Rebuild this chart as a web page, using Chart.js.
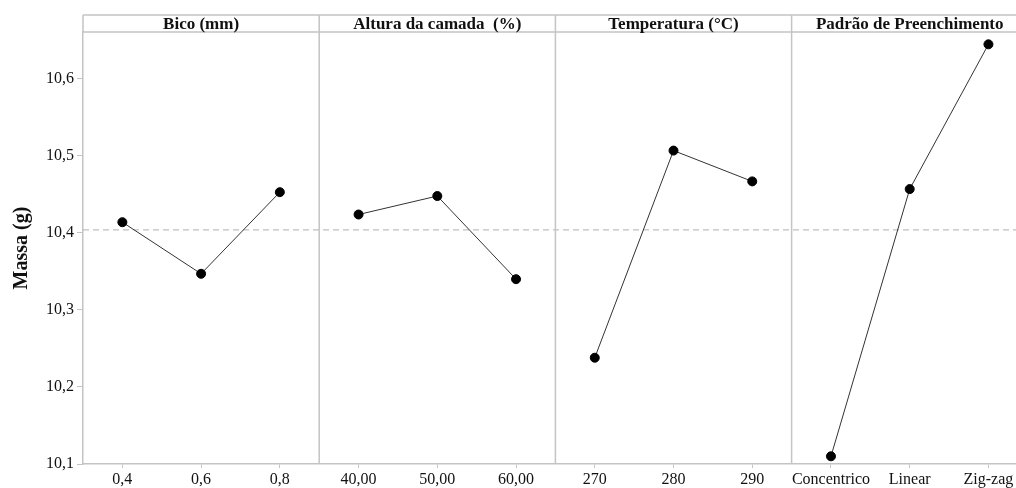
<!DOCTYPE html>
<html>
<head>
<meta charset="utf-8">
<script src="https://cdn.jsdelivr.net/npm/chart.js@4.4.0/dist/chart.umd.min.js"></script>
<style>
  html, body { margin: 0; padding: 0; background: #fff; overflow: hidden; }
  #wrap { width: 1016px; height: 488px; position: relative; }
  canvas { display: block; }
</style>
</head>
<body>
<div id="wrap"><canvas id="chart"></canvas></div>
<script>
// factor panels
const factors = ["Bico (mm)", "Altura da camada  (%)", "Temperatura (°C)", "Padrão de Preenchimento"];
const levelLabels = [
  ["0,4", "0,6", "0,8"],
  ["40,00", "50,00", "60,00"],
  ["270", "280", "290"],
  ["Concentrico", "Linear", "Zig-zag"]
];
// mean of Massa (g) for each level
const bicoMeans = [10.414, 10.347, 10.453];
const alturaMeans = [10.424, 10.448, 10.340];
const tempMeans = [10.238, 10.507, 10.467];
const padraoMeans = [10.110, 10.457, 10.645];
const grandMean = 10.404;
const yTickValues = [10.1, 10.2, 10.3, 10.4, 10.5, 10.6];

const seriesMeans = [bicoMeans, alturaMeans, tempMeans, padraoMeans];
const serif = "'Liberation Serif', 'DejaVu Serif', serif";
const gridGray = "#c4c4c4";

// each panel is one unit wide on the x scale, levels at 1/6, 1/2, 5/6
const levelPos = (panel, j) => panel + (2 * j + 1) / 6;

const datasets = seriesMeans.map((vals, p) => ({
  data: vals.map((v, j) => ({ x: levelPos(p, j), y: v })),
  borderColor: "#333",
  borderWidth: 1,
  pointBackgroundColor: "#000",
  pointBorderColor: "#000",
  pointRadius: 4.5,
  pointStyle: "circle",
  tension: 0,
}));

const xTicks = [];
const xTickText = {};
levelLabels.forEach((labels, p) => {
  labels.forEach((lab, j) => {
    const pos = levelPos(p, j);
    xTicks.push({ value: pos });
    xTickText[pos.toFixed(4)] = lab;
  });
});

const panelPlugin = {
  id: "panels",
  beforeDatasetsDraw(chart) {
    const { ctx, chartArea, scales } = chart;
    const headerTop = 15;
    ctx.save();
    // mean reference line
    const ym = scales.y.getPixelForValue(grandMean);
    ctx.strokeStyle = "#b0b0b0";
    ctx.lineWidth = 1;
    ctx.setLineDash([6, 4]);
    ctx.beginPath();
    ctx.moveTo(chartArea.left, ym);
    ctx.lineTo(chartArea.right, ym);
    ctx.stroke();
    ctx.setLineDash([]);

    // panel dividers and header strip
    ctx.strokeStyle = gridGray;
    ctx.lineWidth = 1.5;
    ctx.beginPath();
    ctx.moveTo(chartArea.left, headerTop);
    ctx.lineTo(chartArea.right, headerTop);
    ctx.moveTo(chartArea.left, chartArea.top);
    ctx.lineTo(chartArea.right, chartArea.top);
    ctx.moveTo(chartArea.left, headerTop);
    ctx.lineTo(chartArea.left, chartArea.top);
    for (let p = 1; p < factors.length; p++) {
      const x = scales.x.getPixelForValue(p);
      ctx.moveTo(x, headerTop);
      ctx.lineTo(x, chartArea.bottom);
    }
    ctx.stroke();

    ctx.fillStyle = "#111";
    ctx.font = "bold 17px " + serif;
    ctx.textAlign = "center";
    ctx.textBaseline = "middle";
    factors.forEach((name, p) => {
      const x = scales.x.getPixelForValue(p + 0.5);
      ctx.fillText(name, x, (headerTop + chartArea.top) / 2 + 1);
    });
    ctx.restore();
  }
};

new Chart(document.getElementById("chart"), {
  type: "line",
  data: { datasets },
  options: {
    responsive: true,
    maintainAspectRatio: false,
    animation: false,
    layout: { autoPadding: false, padding: { top: 32, right: 0, bottom: 0, left: 0 } },
    plugins: { legend: { display: false }, tooltip: { enabled: false } },
    scales: {
      x: {
        type: "linear",
        min: 0,
        max: 3.95,
        afterBuildTicks: (scale) => { scale.ticks = xTicks.slice(); },
        afterFit: (scale) => {
          scale.height = 24;
          scale.paddingLeft = 0;
          scale.paddingRight = 0;
        },
        ticks: {
          autoSkip: false,
          maxRotation: 0,
          padding: 2,
          color: "#111",
          font: { family: serif, size: 16 },
          callback: (v) => xTickText[Number(v).toFixed(4)] || "",
        },
        grid: { drawOnChartArea: false, drawTicks: true, tickLength: 4, color: gridGray },
        border: { color: gridGray, width: 1.5 },
      },
      y: {
        min: 10.1,
        max: 10.661,
        afterBuildTicks: (scale) => { scale.ticks = yTickValues.map((v) => ({ value: v })); },
        afterFit: (scale) => { scale.width = 83; },
        ticks: {
          padding: 3,
          color: "#111",
          font: { family: serif, size: 16 },
          callback: (v) => Number(v).toFixed(1).replace(".", ","),
        },
        title: {
          display: true,
          text: "Massa (g)",
          color: "#111",
          font: { family: serif, size: 20, weight: "bold" },
          padding: { top: 10, bottom: 0 },
        },
        grid: { drawOnChartArea: false, drawTicks: true, tickLength: 6, color: gridGray },
        border: { color: gridGray, width: 1.5 },
      },
    },
  },
  plugins: [panelPlugin],
});
</script>
</body>
</html>
